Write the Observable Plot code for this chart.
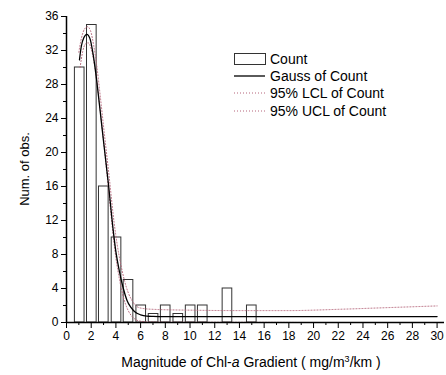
<!DOCTYPE html>
<html><head><meta charset="utf-8">
<script src="https://cdn.jsdelivr.net/npm/d3@7"></script>
<script src="https://cdn.jsdelivr.net/npm/@observablehq/plot@0.6"></script>
<style>body{margin:0;background:#fff} #chart{width:446px;height:375px}</style>
</head><body><div id="chart"></div>
<script>
// Histogram bins (centre of bin) and counts
const binCenters = [1.07, 2.05, 3.02, 4.05, 5.02, 6.05, 7.05, 8.03, 9.05, 10.05, 11.03, 13.03, 15.0];
const counts     = [30, 35, 16, 10, 5, 2, 1, 2, 1, 2, 2, 4, 2];

// Gauss fit curve
const gaussX = [1.05,1.2,1.4,1.65,1.9,2.15,2.4,2.7,3.0,3.4,3.8,4.0,4.3,4.6,4.9,5.2,5.5,6.0,6.5,7,8,10,15,20,25,30];
const gaussY = [30.9,32.5,33.5,33.9,33.4,31.6,29.0,25.2,21.3,16.2,10.6,8.3,5.9,4.0,2.6,1.8,1.3,0.9,0.75,0.72,0.7,0.7,0.7,0.7,0.7,0.7];

// 95% UCL
const uclX = [1.0,1.2,1.45,1.7,1.95,2.2,2.45,2.75,3.05,3.45,3.85,4.1,4.4,4.7,5.0,5.3,5.6,6.0,7,10,14,18,22,26,30];
const uclY = [31.8,33.4,34.5,34.8,34.3,32.6,30.2,26.4,22.4,17.2,11.8,9.2,6.8,4.9,3.5,2.6,2.0,1.7,1.55,1.45,1.4,1.4,1.55,1.75,1.95];

// 95% LCL
const lclX = [1.1,1.3,1.55,1.75,2.0,2.25,2.5,2.8,3.1,3.45,3.8,4.0,4.3,4.6,4.9,5.2,5.5,6,7,10,14,19.5];
const lclY = [30.0,31.8,32.8,32.9,32.2,30.4,27.8,24.0,20.0,15.0,10.0,7.6,5.0,3.0,1.7,0.9,0.45,0.15,0.05,0.03,0.02,0.0];

// Ticks
const xTicks = [0,2,4,6,8,10,12,14,16,18,20,22,24,26,28,30];
const xMinor = [1,3,5,7,9,11,13,15,17,19,21,23,25,27,29];
const yTicks = [0,4,8,12,16,20,24,28,32,36];
const yMinor = [2,6,10,14,18,22,26,30,34];

const legendLabels = ["Count", "Gauss of Count", "95% LCL of Count", "95% UCL of Count"];
const clColor = "#b5657a";

const bars = binCenters.map((c, i) => ({c, n: counts[i]}));
const gauss = gaussX.map((x, i) => ({x, y: gaussY[i]}));
const ucl = uclX.map((x, i) => ({x, y: uclY[i]}));
const lcl = lclX.map((x, i) => ({x, y: lclY[i]}));

const font = "'Liberation Sans', Arial, Helvetica, sans-serif";

const plot = Plot.plot({
  width: 446, height: 375,
  marginLeft: 66, marginRight: 2, marginTop: 16, marginBottom: 53,
  style: {fontFamily: font, fontSize: "12px", background: "white", color: "black"},
  x: {domain: [0, 30.6]},
  y: {domain: [0, 36]},
  marks: [
    Plot.rect(bars, {x1: d => d.c - 0.39, x2: d => d.c + 0.39, y1: 0, y2: "n", fill: "white", stroke: "#333", strokeWidth: 1}),
    Plot.line(ucl, {x: "x", y: "y", stroke: clColor, strokeWidth: 1, strokeDasharray: "1,2", curve: "monotone-x"}),
    Plot.line(lcl, {x: "x", y: "y", stroke: clColor, strokeWidth: 1, strokeDasharray: "1,2", curve: "monotone-x"}),
    Plot.line(gauss, {x: "x", y: "y", stroke: "black", strokeWidth: 1.3, curve: "monotone-x"}),
    Plot.ruleX([0], {stroke: "black", strokeWidth: 1.5}),
    Plot.ruleY([0], {stroke: "black", strokeWidth: 1.5}),
    Plot.axisX({ticks: xTicks, tickSize: 6, tickPadding: 3, label: null, fontSize: 12, stroke: "black"}),
    Plot.axisX({ticks: xMinor, tickSize: 3, text: null, label: null, stroke: "black"}),
    Plot.axisY({ticks: yTicks, tickSize: 5, tickPadding: 3, label: null, fontSize: 12, stroke: "black"}),
    Plot.axisY({ticks: yMinor, tickSize: 3, text: null, label: null, stroke: "black"})
  ]
});

document.getElementById("chart").appendChild(plot);
const svg = d3.select(plot);

// X axis title with italic a and superscript 3
const xt = svg.append("text")
  .attr("x", 251).attr("y", 367)
  .attr("text-anchor", "middle")
  .style("font-family", font).style("font-size", "14px").attr("fill", "black");
xt.append("tspan").text("Magnitude of Chl-");
xt.append("tspan").style("font-style", "italic").text("a");
xt.append("tspan").text(" Gradient ( mg/m");
xt.append("tspan").attr("dy", -5).style("font-size", "9px").text("3");
xt.append("tspan").attr("dy", 5).text("/km )");

// Y axis title
svg.append("text")
  .attr("transform", "translate(29,169) rotate(-90)")
  .attr("text-anchor", "middle")
  .style("font-family", font).style("font-size", "13px").attr("fill", "black")
  .text("Num. of obs.");

// Legend
const lg = svg.append("g").style("font-family", font).style("font-size", "14px").attr("text-anchor", "start");
const rowY = [59, 76, 93, 111];
lg.append("rect").attr("x", 234.5).attr("y", 53.5).attr("width", 31).attr("height", 11)
  .attr("fill", "white").attr("stroke", "#333");
lg.append("line").attr("x1", 234).attr("x2", 265).attr("y1", rowY[1]).attr("y2", rowY[1])
  .attr("stroke", "black").attr("stroke-width", 1.3);
[2, 3].forEach(i => lg.append("line").attr("x1", 234).attr("x2", 265).attr("y1", rowY[i]).attr("y2", rowY[i])
  .attr("stroke", clColor).attr("stroke-dasharray", "1,2"));
legendLabels.forEach((t, i) => lg.append("text").attr("x", 270).attr("y", rowY[i] + 5)
  .attr("text-anchor", "start").attr("fill", "black").text(t));
</script>
</body></html>
